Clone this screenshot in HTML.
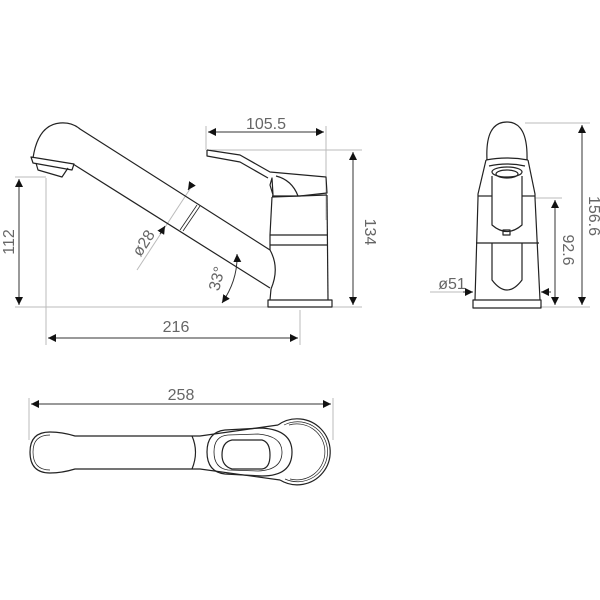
<!DOCTYPE html>
<html><head><meta charset="utf-8"><style>
html,body{margin:0;padding:0;background:#fff;}
svg{display:block;}
text{font-family:"Liberation Sans",sans-serif;fill:#666;font-size:16px;}
</style></head><body>
<svg width="600" height="600" viewBox="0 0 600 600" xmlns="http://www.w3.org/2000/svg">
<defs>
<marker id="a" viewBox="0 0 10 10" refX="10" refY="5" markerWidth="8" markerHeight="8" orient="auto-start-reverse" markerUnits="userSpaceOnUse"><path d="M0,0 L10,5 L0,10z" fill="#111"/></marker>
</defs>
<g stroke="#bbb" stroke-width="1" fill="none">
<line x1="206" y1="126" x2="206" y2="150"/>
<line x1="326" y1="126" x2="326" y2="220"/>
<line x1="210" y1="150" x2="362" y2="150"/>
<line x1="15" y1="307" x2="362" y2="307"/>
<line x1="15" y1="177" x2="46" y2="177"/>
<line x1="46" y1="178" x2="46" y2="345"/>
<line x1="300" y1="310" x2="300" y2="345"/>
<line x1="525" y1="123" x2="590" y2="123"/>
<line x1="535" y1="198" x2="562" y2="198"/>
<line x1="540" y1="307" x2="590" y2="307"/>
<line x1="430" y1="292" x2="473" y2="292"/>
<line x1="29" y1="398" x2="29" y2="440"/>
<line x1="333" y1="398" x2="333" y2="440"/>
<line x1="137" y1="270" x2="190" y2="189"/>
</g>
<g stroke="#333" stroke-width="1" fill="none">
<line x1="208" y1="132" x2="324" y2="132" marker-start="url(#a)" marker-end="url(#a)"/>
<line x1="353" y1="152" x2="353" y2="305" marker-start="url(#a)" marker-end="url(#a)"/>
<line x1="19" y1="179" x2="19" y2="305" marker-start="url(#a)" marker-end="url(#a)"/>
<line x1="48" y1="338" x2="298" y2="338" marker-start="url(#a)" marker-end="url(#a)"/>
<line x1="582" y1="125" x2="582" y2="305" marker-start="url(#a)" marker-end="url(#a)"/>
<line x1="555" y1="200" x2="555" y2="305" marker-start="url(#a)" marker-end="url(#a)"/>
<line x1="31" y1="404" x2="331" y2="404" marker-start="url(#a)" marker-end="url(#a)"/>
<line x1="463" y1="292" x2="473" y2="292" marker-end="url(#a)"/>
<line x1="551" y1="292" x2="541" y2="292" marker-end="url(#a)"/>
<line x1="192" y1="184" x2="188" y2="190" marker-end="url(#a)"/>
<line x1="160" y1="234" x2="165" y2="226" marker-end="url(#a)"/>
<path d="M222,303 Q238,280 237,254" marker-start="url(#a)" marker-end="url(#a)"/>
</g>
<g stroke="#222" stroke-width="1.2" fill="none" stroke-linejoin="round">
<path d="M33,158 Q38,125 60,123 Q72,122 80,129 L270,250"/>
<path d="M73,164 L270,288"/>
<path d="M31,157 L74,164 L72,170 L33,163 Z"/>
<path d="M36,163 L38,170 L62,177 L68,168"/>
<line x1="197" y1="205" x2="180" y2="230" stroke-width="0.8"/>
<line x1="200" y1="206" x2="183" y2="231" stroke-width="0.8"/>
<path d="M270,250 Q280,268 271,289"/>
<path d="M272,197 L270,235 L270,250 M271,289 L270,300"/>
<path d="M327,195 L328,300"/>
<line x1="272" y1="197" x2="327" y2="195"/>
<line x1="270" y1="235" x2="328" y2="235"/>
<line x1="270" y1="245" x2="328" y2="245"/>
<rect x="268" y="300" width="64" height="7"/>
<path d="M207,150 L240,155 L270,172 L326,177 L327,193 L300,196 L272,196"/>
<path d="M207,150 L207,156 L240,162 L268,178"/>
<path d="M276,176 Q292,180 298,196"/>
<path d="M272,178 L270,185 L273,195 Z"/>
<!-- front view -->
<path d="M487,160 Q485,122 507,122 Q528,122 527,160"/>
<path d="M486,160 L478,194 L478,198 L475,300 M528,160 L535,194 L535,198 L540,300"/>
<path d="M486,160 Q507,156 528,160"/>
<path d="M489,166 Q507,162 525,166"/>
<line x1="478" y1="196" x2="492" y2="196"/>
<line x1="522" y1="196" x2="535" y2="196"/>
<ellipse cx="507" cy="172" rx="15" ry="5"/>
<ellipse cx="507" cy="174" rx="11" ry="4"/>
<path d="M492,176 L492,225 Q507,238 522,225 L522,176"/>
<rect x="503" y="230" width="7" height="5"/>
<line x1="476" y1="243" x2="539" y2="243"/>
<path d="M492,243 L492,280 Q507,300 522,280 L522,243"/>
<rect x="473" y="300" width="68" height="8"/>
<!-- top view -->
<path d="M30,452 Q30,432 50,432 Q62,432 75,436 L200,436 L278,425"/>
<path d="M30,452 Q30,473 50,473 Q62,473 75,469 L200,469 L280,480"/>
<path d="M33,452 Q33,435 50,435 M33,452 Q33,470 50,470" stroke-width="0.7"/>
<path d="M192,436 Q199,452 192,469"/>
<path d="M278,425 A33,33 0 1 1 280,480"/>
<path d="M284,425 A30,30 0 1 1 285,479" stroke-width="0.7"/>
<path d="M289,425 A28,28 0 1 1 290,479" stroke-width="0.7"/>
<path d="M225,430 L262,428 Q292,430 292,452 Q292,476 262,476 L225,474 Q207,472 207,452 Q207,432 225,430 Z"/>
<path d="M228,435 L258,434 Q282,436 282,452 Q282,470 258,471 L228,470 Q214,468 214,452 Q214,436 228,435 Z" stroke-width="0.8"/>
<path d="M232,440 L262,440 Q270,442 270,455 Q270,468 262,469 L232,469 Q222,466 222,455 Q222,442 232,440 Z"/>
</g>
<text x="266" y="129" text-anchor="middle">105.5</text>
<text x="176" y="332" text-anchor="middle">216</text>
<text x="181" y="400" text-anchor="middle">258</text>
<text transform="translate(14,242) rotate(-90)" text-anchor="middle">112</text>
<text transform="translate(365,232) rotate(90)" text-anchor="middle">134</text>
<text transform="translate(589,216) rotate(90)" text-anchor="middle">156.6</text>
<text transform="translate(563,250) rotate(90)" text-anchor="middle">92.6</text>
<text x="452" y="289" text-anchor="middle">ø51</text>
<text transform="translate(148,246) rotate(-57)" text-anchor="middle">ø28</text>
<text transform="translate(222,280) rotate(-75)" text-anchor="middle">33°</text>
</svg>
</body></html>
